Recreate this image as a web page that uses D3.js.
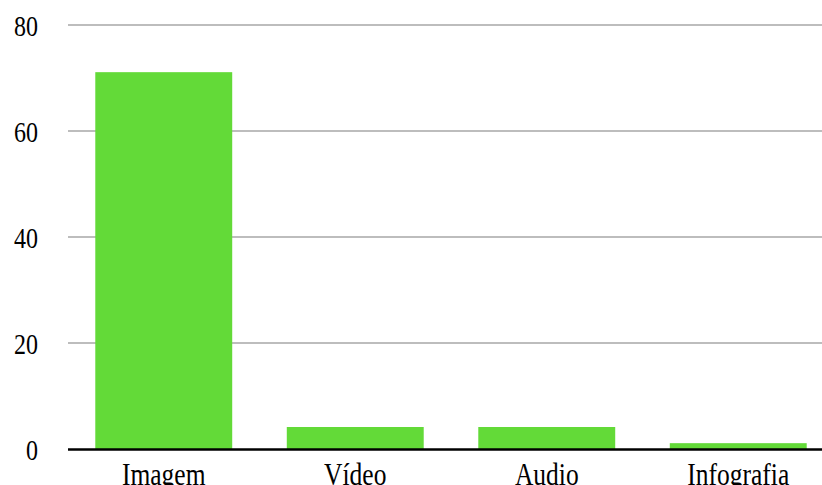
<!DOCTYPE html>
<html><head><meta charset="utf-8">
<script src="https://cdn.jsdelivr.net/npm/d3@7"></script>
<style>html,body{margin:0;padding:0;background:#fff;overflow:hidden}
text{font-family:"Liberation Serif","Times New Roman",serif}</style>
</head><body>
<svg id="c" width="822" height="485"></svg>
<script>
const categories = ["Imagem", "Vídeo", "Audio", "Infografia"];
const values = [71.1, 4.15, 4.15, 1.1];
const yTicks = [0, 20, 40, 60, 80];

(function () {
const svg = d3.select("#c");
const mLeft = 68, mRight = 834, mTop = 25, mBottom = 449;
const x = d3.scaleBand().domain(categories).range([mLeft, mRight]).paddingInner(0.285).paddingOuter(0.1425);
const y = d3.scaleLinear().domain([0, 80]).range([mBottom, mTop]);

// gridlines
svg.append("g").selectAll("line").data(yTicks.filter(d => d > 0)).join("line")
  .attr("x1", mLeft).attr("x2", 822)
  .attr("y1", d => y(d)).attr("y2", d => y(d))
  .attr("stroke", "#bdbdbd").attr("stroke-width", 2);

// y tick labels
svg.append("g").selectAll("text").data(yTicks).join("text")
  .attr("transform", d => `translate(38,${y(d) + 10.5}) scale(1,1.2)`)
  .attr("text-anchor", "end")
  .attr("font-size", 24).attr("fill", "#000")
  .text(d => d);

// bars
svg.append("g").selectAll("rect").data(values).join("rect")
  .attr("x", (d, i) => x(categories[i]))
  .attr("width", x.bandwidth())
  .attr("y", d => y(d))
  .attr("height", d => y(0) - y(d))
  .attr("fill", "#63da38");

// baseline
svg.append("line").attr("x1", mLeft).attr("x2", 822)
  .attr("y1", y(0) + 0.5).attr("y2", y(0) + 0.5)
  .attr("stroke", "#000").attr("stroke-width", 2.5);

// category labels
svg.append("g").selectAll("text").data(categories).join("text")
  .attr("transform", d => `translate(${x(d) + x.bandwidth() / 2},484.6) scale(1,1.2)`)
  .attr("text-anchor", "middle")
  .attr("font-size", 25.5).attr("fill", "#000")
  .text(d => d);
})();
</script>
</body></html>
